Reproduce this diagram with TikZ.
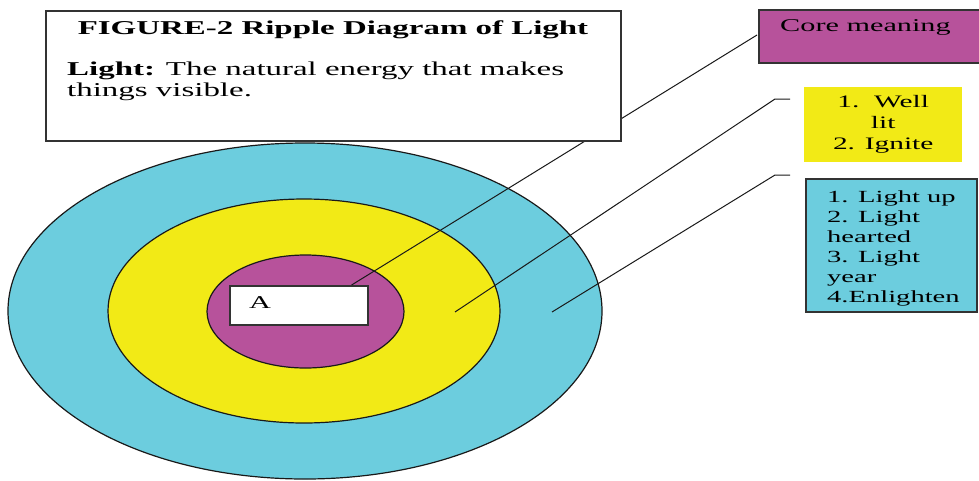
\documentclass[tikz,border=0pt]{standalone}
\usepackage{fontspec}
\setmainfont{Liberation Serif}[FakeStretch=1.68]
\usetikzlibrary{positioning,shapes.geometric}
\definecolor{ringcyan}{HTML}{6CCDDE}
\definecolor{ringyellow}{HTML}{F2EA16}
\definecolor{ringmagenta}{HTML}{B7529B}

\begin{document}
\begin{tikzpicture}[x=1pt,y=-1pt,
  ring/.style={ellipse,draw=black!90,line width=1.2pt,inner sep=0pt},
  tag/.style={draw=black!80,line width=1.6pt,inner sep=0pt},
  lead/.style={line width=1pt,black!90},
  txt/.style={inner sep=0pt,font=\fontsize{17}{20}\selectfont}
]
\useasboundingbox (0,0) rectangle (979,480);

% the three ripples
\node[ring,fill=ringcyan,minimum width=594,minimum height=336] (outer) at (305,311) {};
\node[ring,fill=ringyellow,minimum width=392,minimum height=224] (middle) at (304,311) {};
\node[ring,fill=ringmagenta,minimum width=197,minimum height=113] (inner) at (305.5,311.5) {};
\node[tag,fill=white,minimum width=138,minimum height=39,anchor=north west] (arect) at (229,285) {};
\node[txt,anchor=base west,font=\fontsize{18}{20}\selectfont] (alabel) at (249,308) {A};

% leaders
\coordinate (well-pt) at (455,312);
\coordinate (well-bend) at (775,99);
\coordinate (well-end) at (790,99);
\coordinate (lit-pt) at (552,312);
\coordinate (lit-bend) at (775,175);
\coordinate (lit-end) at (790,175);

\draw[lead] ([xshift=-17pt]arect.north east) -- (757,35) coordinate (core-end);
\draw[lead] (well-pt) -- (well-bend) -- (well-end);
\draw[lead] (lit-pt) -- (lit-bend) -- (lit-end);

% heading box
\node[tag,fill=white,minimum width=575,minimum height=130,anchor=north west] (titlebox) at (45,10) {};
\node[txt,anchor=base,font=\bfseries\fontsize{19.6}{22}\selectfont] (title) at (333,34) {FIGURE-2 Ripple Diagram of Light};
\node[txt,anchor=base west,font=\fontsize{19.6}{22}\selectfont] (defn) at (67,75) {\textbf{Light:} The natural energy that makes};
\node[txt,anchor=base west,font=\fontsize{19.6}{22}\selectfont] (defn-b) at (67,96) {things visible.};

% meaning boxes
\node[tag,fill=ringmagenta,minimum width=235,minimum height=53,anchor=north west] (corebox) at (758,9) {};
\node[txt,anchor=base west,font=\fontsize{18}{20}\selectfont] (core-lbl) at (780,31) {Core meaning};
\node[txt,fill=ringyellow,minimum width=158,minimum height=75,anchor=north west,align=center,font=\fontsize{17.5}{21}\selectfont] (wellbox) at (804,87) {1.\ \ Well\\lit\\2. Ignite};
\node[tag,fill=ringcyan,minimum width=171,minimum height=133,anchor=north west] (lightbox) at (805,178) {};
\node[txt,anchor=north west,align=left] (light-lbl) at (827,190) {1. Light up\\2. Light\\hearted\\3. Light\\year\\4.Enlighten};
\end{tikzpicture}
\end{document}
